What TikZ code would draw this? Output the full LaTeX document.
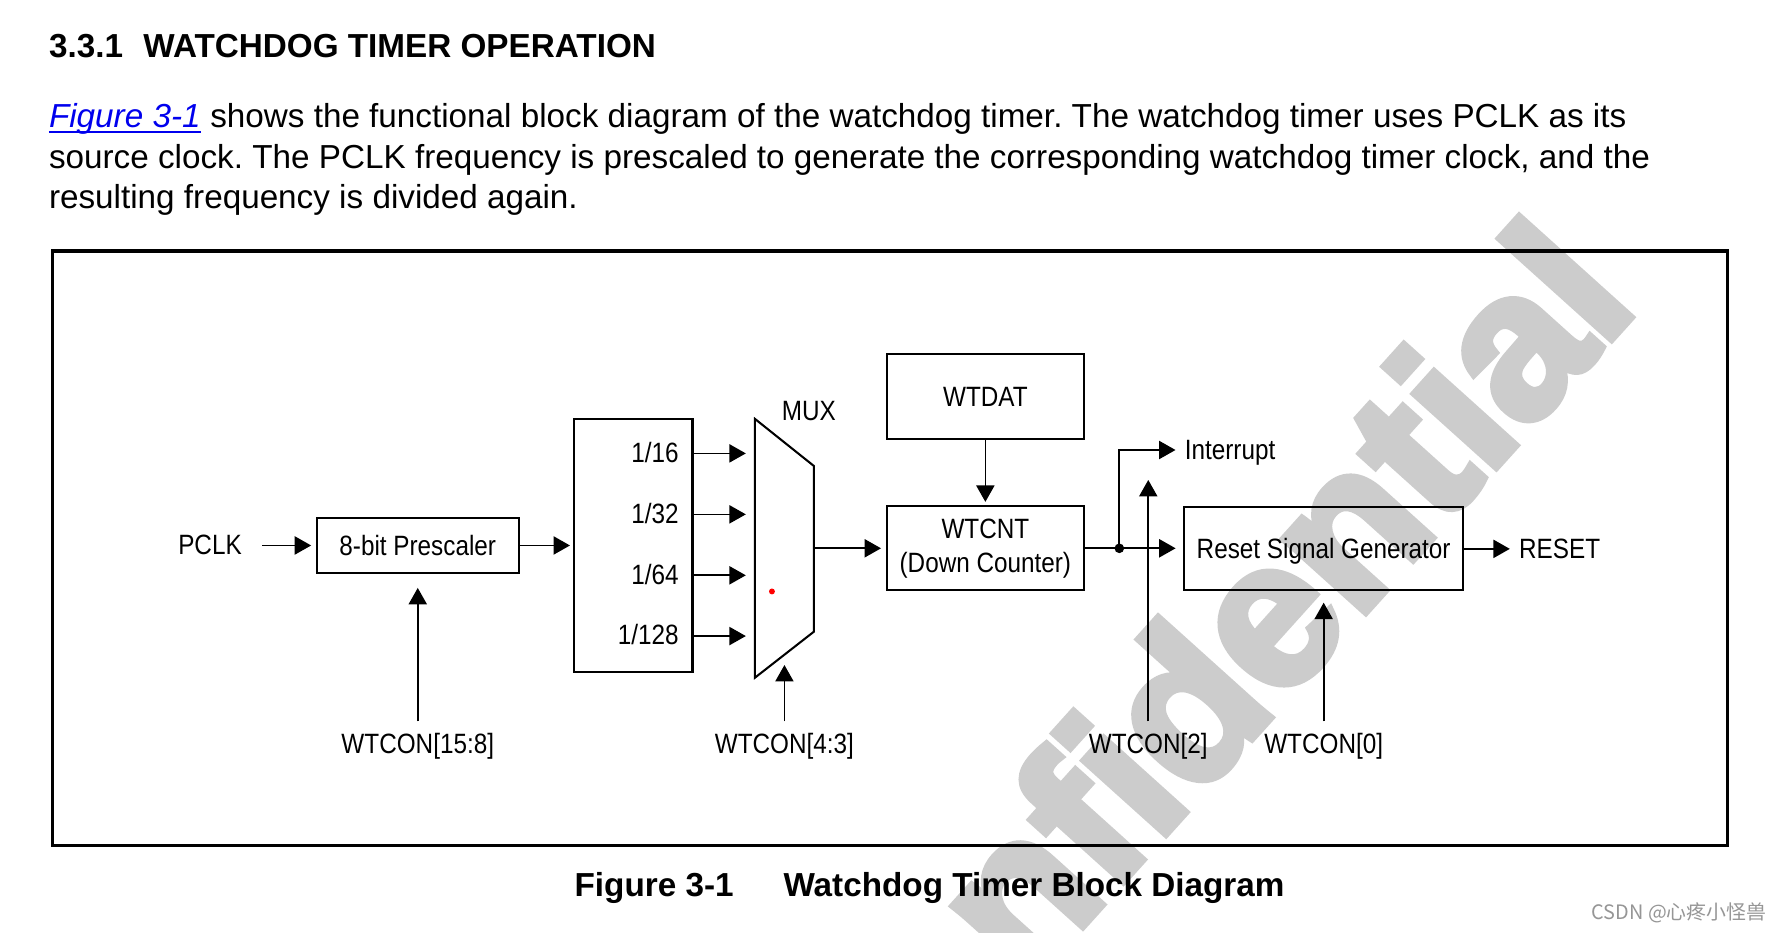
\documentclass[tikz,border=0pt]{standalone}
\usepackage{fontspec}
\setmainfont{Liberation Sans}
\newfontfamily\cjkfont{Noto Sans CJK SC}
\newfontfamily\dfam{Liberation Sans}[FakeStretch=0.87]
\newfontfamily\wmfam{Liberation Sans Bold}[FakeBold=4]
\usetikzlibrary{arrows.meta}
\definecolor{linkblue}{RGB}{0,0,238}
\definecolor{wmgray}{RGB}{204,204,204}
\definecolor{csdngray}{RGB}{150,150,150}
\newcommand\dfont{\dfam\fontsize{24.6}{30}\selectfont}
\newcommand\pfont{\fontsize{29.3}{35.5}\selectfont}
\newcommand\wmfont{\wmfam\fontsize{182}{182}\selectfont}
\frenchspacing
\begin{document}
\begin{tikzpicture}[x=1pt,y=-1pt,
  box/.style={draw, line width=1.8pt, inner sep=0pt, font=\dfont},
  onebox/.style={box, text height=17.6pt, text depth=0pt},
  arr/.style={line width=1.5pt, -{Triangle[length=14.5pt,width=16pt]}},
  lbl/.style={inner sep=0pt, font=\dfont, anchor=base},
  ptext/.style={inner sep=0pt, font=\pfont, anchor=base west},
  ]
\useasboundingbox (0,0) rectangle (1568,821);
\fill[white] (0,0) rectangle (1568,821);

% watermark
\begin{scope}
\clip (0,0) rectangle (1568,821);
\node[rotate=48, anchor=base east, inner sep=0pt, text=wmgray, font=\wmfont] (wm) at (1445,270) {Confidential};
\end{scope}

% heading and paragraph
\node[ptext, font=\pfont\bfseries] (title) at (43,50.5) {3.3.1\hspace{18pt}WATCHDOG TIMER OPERATION};
\node[ptext, text=linkblue] (link) at (43,112.5) {\textit{Figure 3-1}};
\draw[linkblue, line width=1.8pt] ([yshift=-4pt]link.base west) -- ([yshift=-4pt]link.base east);
\node[ptext] (l1) at ([xshift=8.1pt]link.base east) {shows the functional block diagram of the watchdog timer. The watchdog timer uses PCLK as its};
\node[ptext] (l2) at (43,148) {source clock. The PCLK frequency is prescaled to generate the corresponding watchdog timer clock, and the};
\node[ptext] (l3) at (43,183.5) {resulting frequency is divided again.};

% frame
\draw[line width=2.9pt] (46,221) rectangle (1522,745);

% caption
\node[ptext, font=\pfont\bfseries] (cap) at (506,789.5) {Figure 3-1\hspace{44pt}Watchdog Timer Block Diagram};
\node[anchor=base east, inner sep=0pt, text=csdngray, font=\cjkfont\fontsize{17.5}{17.5}\selectfont] (csdn) at (1556,810) {CSDN @心疼小怪兽};

% blocks
\node[lbl] (pclk) at (185,488.5) {PCLK};
\node[onebox, minimum width=178pt, minimum height=49pt] (pre) at (368,480.5) {8-bit Prescaler};
\node[box, minimum width=104pt, minimum height=223pt] (div) at (558,480.5) {};
\node[lbl, anchor=base east] (d16) at (598,407.2) {1/16};
\node[lbl, anchor=base east] (d32) at (598,460.9) {1/32};
\node[lbl, anchor=base east] (d64) at (598,514.6) {1/64};
\node[lbl, anchor=base east] (d128) at (598,568.1) {1/128};

% MUX
\coordinate (mtl) at (665,369);
\coordinate (mtr) at (717,410.5);
\coordinate (mbr) at (717,556.4);
\coordinate (mbl) at (665,597);
\draw[line width=1.8pt, line join=miter] (mtl) -- (mtr) -- (mbr) -- (mbl) -- cycle;
\node[lbl] (muxlbl) at (712.5,370.5) {MUX};
\fill[red] (680,521) circle[radius=2.6];
\coordinate (mi1) at (657,399.4);
\coordinate (mi2) at (657,453.1);
\coordinate (mi3) at (657,506.8);
\coordinate (mi4) at (657,560.3);
\coordinate (mout) at (717,483);
\coordinate (mtip) at (691,585.8);

\node[onebox, minimum width=174pt, minimum height=75pt] (dat) at (868,349.5) {WTDAT};
\node[box, minimum width=174pt, minimum height=74pt, align=center] (cnt) at (868,483) {WTCNT\\(Down Counter)};
\node[onebox, minimum width=246pt, minimum height=73pt] (rsg) at (1166,483.5) {Reset Signal Generator};
\node[lbl, anchor=base west] (intr) at (1043.5,405) {Interrupt};
\node[lbl, anchor=base west] (reset) at (1338,492) {RESET};
\node[circle, fill, inner sep=0pt, minimum size=8.5pt] (jn) at (986,483) {};
\coordinate (intip) at (1035.5,396.4);
\coordinate (w2tip) at (1011.5,422.8);

\node[lbl] (w158) at (368,664) {WTCON[15:8]};
\node[lbl] (w43) at (691,664) {WTCON[4:3]};
\node[lbl] (w2) at (1011.5,664) {WTCON[2]};
\node[lbl] (w0) at (1166,664) {WTCON[0]};

% connectors
\draw[arr, shorten <=18pt, shorten >=4pt] (pclk.east |- pre.west) -- (pre.west);
\draw[arr, shorten >=3pt] (pre.east) -- (div.west);
\draw[arr] (div.east |- mi1) -- (mi1);
\draw[arr] (div.east |- mi2) -- (mi2);
\draw[arr] (div.east |- mi3) -- (mi3);
\draw[arr] (div.east |- mi4) -- (mi4);
\draw[arr, shorten >=4pt] (mout) -- (cnt.west);
\draw[arr, shorten >=3pt] (dat.south) -- (cnt.north);
\draw[arr, shorten >=6.5pt] (cnt.east) -- (cnt.east -| rsg.west);
\draw[arr] (jn.center) |- (intip);
\draw[arr, shorten >=8pt] (rsg.east) -- (reset.west |- rsg.east);
\draw[arr, shorten <=10.5pt, shorten >=12pt] (w158.north) -- (pre.south);
\draw[arr, shorten <=10.5pt] (w43.north) -- (mtip);
\draw[arr, shorten <=10.5pt] (w2.north) -- (w2tip);
\draw[arr, shorten <=10.5pt, shorten >=10pt] (w0.north) -- (rsg.south);
\end{tikzpicture}
\end{document}
